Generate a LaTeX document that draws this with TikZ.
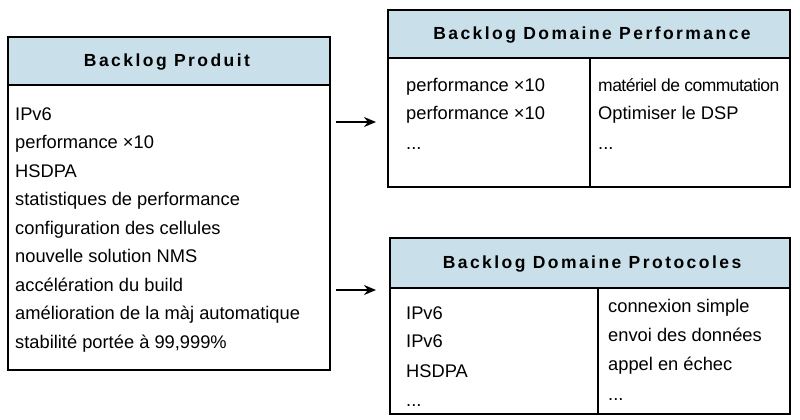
\documentclass[tikz,border=0pt]{standalone}
\usepackage{fontspec}
\setmainfont{Liberation Sans}
\usetikzlibrary{arrows.meta}
\definecolor{hdr}{HTML}{C9E0EA}
\begin{document}
\begin{tikzpicture}[x=1pt,y=-1pt,
  box/.style={draw=black,line width=1.5pt},
  hd/.style={draw=black,line width=1.5pt,fill=hdr},
  ht/.style={font=\fontsize{17.5}{20}\selectfont\bfseries\addfontfeatures{LetterSpace=14}},
  tx/.style={anchor=base west,font=\fontsize{18.3}{21}\selectfont,inner sep=0pt},
  ar/.style={-{Stealth[length=12pt,width=10pt]},line width=1.5pt}]
\useasboundingbox (0,0) rectangle (800,420);
% left
\draw[box] (8,37) rectangle (330,370);
\draw[hd] (8,37) rectangle (330,85);
\node[ht] (lh) at (167,62) {Backlog Produit};
\foreach \t [count=\i] in {IPv6,performance ×10,HSDPA,statistiques de performance,configuration des cellules,nouvelle solution NMS,accélération du build,amélioration de la màj automatique,{stabilité portée à 99,999\%}}
  \node[tx] (l\i) at (15,{120+28.5*(\i-1)}) {\t};
% right top
\draw[box] (388,10) rectangle (790,187);
\draw[hd] (388,10) rectangle (790,58);
\draw[line width=1.5pt] (590,58) -- (590,187);
\node[ht] (th) at (592,35) {Backlog Domaine Performance};
\node[tx] (t1) at (406,91) {performance ×10};
\node[tx] (t2) at (406,119) {performance ×10};
\node[tx] (t3) at (406,149) {...};
\node[tx,font=\fontsize{17.5}{20}\selectfont\addfontfeatures{LetterSpace=-3}] (t4) at (598,91) {matériel de commutation};
\node[tx] (t5) at (598,119) {Optimiser le DSP};
\node[tx] (t6) at (598,149) {...};
% right bottom
\draw[box] (390,238) rectangle (790,414);
\draw[hd] (390,238) rectangle (790,288);
\draw[line width=1.5pt] (598,288) -- (598,414);
\node[ht] (bh) at (592,264) {Backlog Domaine Protocoles};
\node[tx] (b1) at (406,319) {IPv6};
\node[tx] (b2) at (406,347) {IPv6};
\node[tx] (b3) at (406,377) {HSDPA};
\node[tx] (b4) at (406,406) {...};
\node[tx] (b5) at (608,312) {connexion simple};
\node[tx] (b6) at (608,341) {envoi des données};
\node[tx] (b7) at (608,370) {appel en échec};
\node[tx] (b8) at (608,400) {...};
% arrows
\coordinate (a1s) at (336,122); \coordinate (a1e) at (376,122);
\coordinate (a2s) at (336,290); \coordinate (a2e) at (376,290);
\draw[ar] (a1s) -- (a1e);
\draw[ar] (a2s) -- (a2e);
\end{tikzpicture}
\end{document}
